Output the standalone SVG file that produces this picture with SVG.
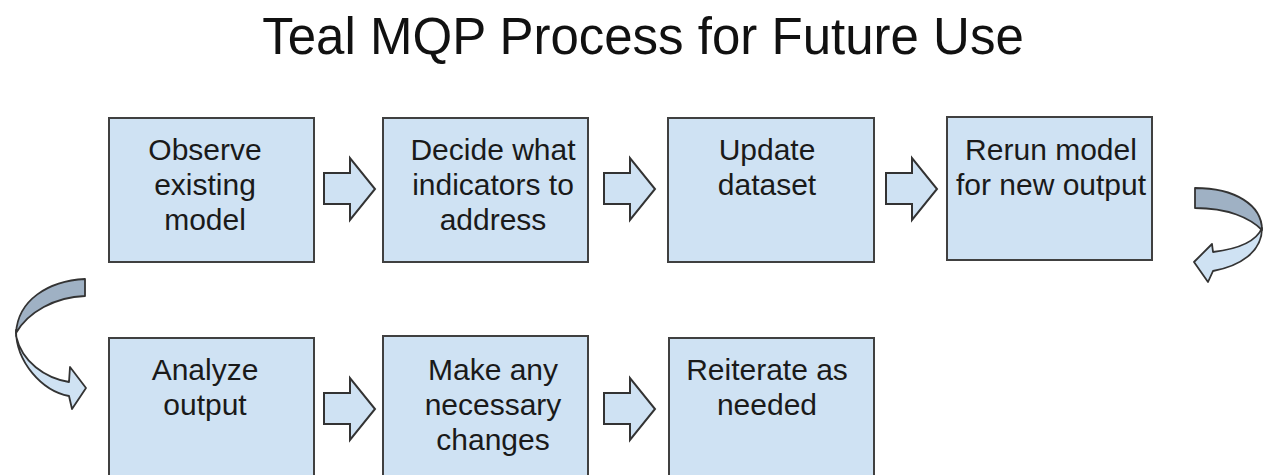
<svg xmlns="http://www.w3.org/2000/svg" width="1263" height="475" viewBox="0 0 1263 475">
<style>
.box{fill:#cfe2f3;stroke:#404040;stroke-width:2}
.t{font-family:"Liberation Sans",Arial,sans-serif;font-size:30px;fill:#1a1a1a;text-anchor:middle}
.title{font-family:"Liberation Sans",Arial,sans-serif;font-size:51px;fill:#111;text-anchor:middle}
.arr{fill:#cfe2f3;stroke:#333;stroke-width:2;stroke-linejoin:miter}
.dark{fill:#9fb1c4;stroke:#333;stroke-width:1.8;stroke-linejoin:round}
.light{fill:#cfe2f3;stroke:#333;stroke-width:1.8;stroke-linejoin:round}
</style>
<defs>
<path id="blk" d="M0,0 H26 V-15 L51,16 L26,47 V31 H0 Z"/>
</defs>
<rect width="1263" height="475" fill="#fff"/>
<text class="title" x="643" y="54">Teal MQP Process for Future Use</text>

<g id="n1"><rect class="box" x="109" y="118" width="205" height="144"/>
<text class="t" x="205" y="160">Observe</text><text class="t" x="205" y="195">existing</text><text class="t" x="205" y="230">model</text></g>
<g id="n2"><rect class="box" x="383" y="118" width="205" height="144"/>
<text class="t" x="493" y="160">Decide what</text><text class="t" x="493" y="195">indicators to</text><text class="t" x="493" y="230">address</text></g>
<g id="n3"><rect class="box" x="668" y="118" width="206" height="144"/>
<text class="t" x="767" y="160">Update</text><text class="t" x="767" y="195">dataset</text></g>
<g id="n4"><rect class="box" x="947" y="117" width="205" height="143"/>
<text class="t" x="1051" y="160">Rerun model</text><text class="t" x="1051" y="195">for new output</text></g>
<g id="n5"><rect class="box" x="109" y="338" width="205" height="150"/>
<text class="t" x="205" y="380">Analyze</text><text class="t" x="205" y="415">output</text></g>
<g id="n6"><rect class="box" x="383" y="336" width="205" height="150"/>
<text class="t" x="493" y="380">Make any</text><text class="t" x="493" y="415">necessary</text><text class="t" x="493" y="450">changes</text></g>
<g id="n7"><rect class="box" x="669" y="338" width="205" height="150"/>
<text class="t" x="767" y="380">Reiterate as</text><text class="t" x="767" y="415">needed</text></g>

<g id="connectors">
<use href="#blk" class="arr" x="324" y="173"/>
<use href="#blk" class="arr" x="604" y="173"/>
<use href="#blk" class="arr" x="886" y="173"/>
<use href="#blk" class="arr" x="324" y="393"/>
<use href="#blk" class="arr" x="604" y="393"/>
<path class="dark" d="M1195,188 C1235,188 1262,205 1262,230 C1250,218 1228,208 1195,208 Z"/>
<path class="light" d="M1262,228 C1262,252 1240,266 1213,271 L1208,282 L1194,262 L1212,244 L1213,252 C1238,249 1256,242 1262,228 Z"/>
<path class="dark" d="M85,279 C48,281 18,300 16,333 C28,312 55,297 85,296 Z"/>
<path class="light" d="M16,330 C16,362 42,391 69,396 L72,409 L86,388 L70,367 L69,382 C45,378 22,362 16,336 Z"/>
</g>
</svg>
